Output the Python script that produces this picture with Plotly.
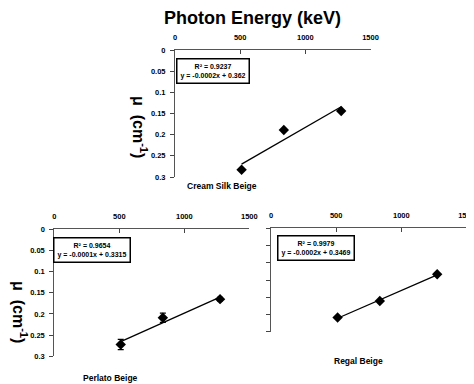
import numpy as np
import plotly.graph_objects as go

energy = [511, 835, 1275]
cream_mu = [0.283, 0.189, 0.144]
perlato_mu = [0.272, 0.209, 0.165]
perlato_err = [0.012, 0.011, 0.004]
regal_mu = [0.259, 0.211, 0.1335]

names = ["Cream Silk Beige", "Perlato Beige", "Regal Beige"]
eqs = ["R² = 0.9237<br>y = -0.0002x + 0.362",
       "R² = 0.9654<br>y = -0.0001x + 0.3315",
       "R² = 0.9979<br>y = -0.0002x + 0.3469"]
xticks = [0, 500, 1000, 1500]
yticks = [0, 0.05, 0.1, 0.15, 0.2, 0.25, 0.3]
ytick_text = ["0", "0.05", "0.1", "0.15", "0.2", "0.25", "0.3"]

W, H = 474, 384
OFF = 8  # page body margin
def px(x): return (x - OFF) / W
def py(y): return 1 - (y - OFF) / H

panels = [
    dict(mu=cream_mu, err=None, xd=[px(175), px(370.5)], yd=[py(177), py(50)], showy=True),
    dict(mu=perlato_mu, err=perlato_err, xd=[px(54.3), px(249.3)], yd=[py(356.3), py(229.3)], showy=True),
    dict(mu=regal_mu, err=None, xd=[px(271), px(466.5)], yd=[py(331.7), py(228.3)], showy=False),
]

fig = go.Figure()
FAM = "Liberation Sans, Arial"
font_b = dict(family=FAM, size=7.5, color="black")
for i, p in enumerate(panels):
    xa = "x" if i == 0 else f"x{i+1}"
    ya = "y" if i == 0 else f"y{i+1}"
    coef = np.polyfit(energy, p["mu"], 1)
    lx = [min(energy), max(energy)]
    ly = [coef[0] * v + coef[1] for v in lx]
    fig.add_trace(go.Scatter(x=lx, y=ly, mode="lines", line=dict(color="black", width=1.3),
                             xaxis=xa, yaxis=ya, showlegend=False))
    err = dict(type="data", array=p["err"], color="black", thickness=1.2, width=3) if p["err"] else None
    fig.add_trace(go.Scatter(x=energy, y=p["mu"], mode="markers",
                             marker=dict(symbol="diamond", size=8, color="black"),
                             error_y=err, xaxis=xa, yaxis=ya, showlegend=False))
    ax = dict(domain=p["xd"], range=[0, 1500], side="top", tickvals=xticks,
              ticktext=["<b>%d</b>" % v for v in xticks], ticks="inside", ticklen=4,
              showline=True, linecolor="#555", linewidth=1, showgrid=False, zeroline=False,
              tickfont=font_b, anchor=ya, mirror=False, automargin=False, ticklabelstandoff=6)
    ay = dict(domain=p["yd"], range=[0.3, 0], tickvals=yticks,
              ticktext=["<b>%s</b>" % t for t in ytick_text] if p["showy"] else [""] * len(yticks),
              ticks="outside", ticklen=4, showline=True, linecolor="#555", linewidth=1,
              showgrid=False, zeroline=False, tickfont=font_b, anchor=xa, automargin=False,
              ticklabelstandoff=3)
    key = "" if i == 0 else str(i + 1)
    fig.layout["xaxis" + key] = ax
    fig.layout["yaxis" + key] = ay

C = dict(xanchor="center", yanchor="middle", xref="paper", yref="paper", showarrow=False)
ann = []
ann.append(dict(x=px(252), y=py(18), text="<b>Photon Energy (keV)</b>",
                font=dict(family=FAM, size=18, color="black"), **C))
for xx, yy in [(px(140), py(127)), (px(20), py(312))]:
    ann.append(dict(x=xx, y=yy, text="<b>μ  (cm<sup>-1</sup>)</b>", textangle=90,
                    font=dict(family=FAM, size=16, color="black"), **C))
for name, (xx, yy) in zip(names, [(222, 186), (110, 378), (358, 361)]):
    ann.append(dict(x=px(xx), y=py(yy), text="<b>%s</b>" % name,
                    font=dict(family=FAM, size=8.5, color="black"), **C))
for eq, (xx, yy) in zip(eqs, [(212.5, 71), (91.5, 249.5), (315.5, 247.5)]):
    ann.append(dict(x=px(xx), y=py(yy), text="<b>%s</b>" % eq,
                    bordercolor="black", borderwidth=1.5, borderpad=3, bgcolor="white",
                    font=dict(family=FAM, size=7, color="black"), **C))

fig.update_layout(width=W, height=H, margin=dict(l=0, r=0, t=0, b=0, autoexpand=False),
                  plot_bgcolor="white", paper_bgcolor="white", annotations=ann)
fig.write_html("out.html")
